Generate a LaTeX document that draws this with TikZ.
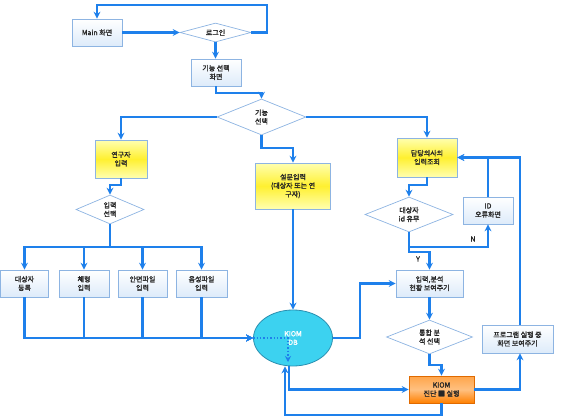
\documentclass[tikz,border=0pt]{standalone}
\usepackage{fontspec}
\newfontfamily\kr{Noto Sans CJK KR}[FakeBold=1.6]
\usetikzlibrary{shapes.geometric,arrows.meta}
\definecolor{lineblue}{HTML}{1E80EB}
\definecolor{boxborder}{HTML}{8DB4E2}
\definecolor{boxfill}{HTML}{DDEBFA}
\definecolor{ylight}{HTML}{FFFFB0}
\definecolor{ymid}{HTML}{FFF030}
\definecolor{dbfill}{HTML}{3CD2F0}
\definecolor{dbborder}{HTML}{2A8FB0}
\definecolor{otop}{HTML}{FFA54A}
\definecolor{obot}{HTML}{FF8000}
\definecolor{oborder}{HTML}{E06A00}
\tikzset{
  txt/.style={font=\kr\fontsize{7}{8.6}\selectfont, text=black!85, align=center},
  pbox/.style={txt, draw=boxborder, line width=0.7pt, top color=white, bottom color=boxfill, inner sep=0pt},
  ybox/.style={txt, draw=boxborder, line width=0.7pt, top color=ylight, bottom color=ylight, middle color=ymid, inner sep=0pt},
  obox/.style={txt, draw=oborder, line width=0.7pt, top color=otop, bottom color=obot, middle color=otop!70!white, inner sep=0pt},
  dia/.style={shape=diamond, draw=boxborder, line width=0.7pt, fill=white, inner sep=0pt},
  lbl/.style={txt},
  conn/.style={draw=lineblue, line width=2.1pt, -{Stealth[length=7pt,width=7pt]}},
  dotconn/.style={draw=lineblue, line width=1.4pt, dotted, -{Stealth[length=6pt,width=6pt]}},
}
\begin{document}
\begin{tikzpicture}[x=1pt,y=-1pt]
\useasboundingbox (0,0) rectangle (562,418);
% nodes
\node[pbox, minimum width=50pt, minimum height=27pt] (main) at (97,32.5) {Main 화면};
\node[dia, minimum width=71pt, minimum height=19pt, label={[lbl]center:로그인}] (login) at (215.5,32.5) {};
\node[pbox, minimum width=50pt, minimum height=27pt] (func) at (216,72.5) {기능 선택\\화면};
\node[dia, minimum width=89pt, minimum height=36pt, label={[lbl]center:{기능\\선택}}] (funcsel) at (261.5,117) {};
\node[ybox, minimum width=52pt, minimum height=38pt] (res) at (121,159) {연구자\\입력};
\node[ybox, minimum width=75pt, minimum height=46pt] (survey) at (293,186) {설문입력\\(대상자 또는 연\\구자)};
\node[ybox, minimum width=60pt, minimum height=39pt] (doc) at (427,157.5) {담당의사의\\입력조회};
\node[dia, minimum width=68pt, minimum height=29pt, label={[lbl]center:{입력\\선택}}] (insel) at (110,209.5) {};
\node[pbox, minimum width=48pt, minimum height=27pt] (b1) at (24.5,283.5) {대상자\\등록};
\node[pbox, minimum width=50pt, minimum height=27pt] (b2) at (84,283.5) {체형\\입력};
\node[pbox, minimum width=49pt, minimum height=27pt] (b3) at (142.5,283.5) {안면파일\\입력};
\node[pbox, minimum width=51pt, minimum height=27pt] (b4) at (201.5,283.5) {음성파일\\입력};
\node[shape=ellipse, draw=dbborder, line width=0.8pt, fill=dbfill, minimum width=79pt, minimum height=56pt, inner sep=0pt, txt, text=white] (db) at (293,338) {KIOM\\DB};
\node[dia, minimum width=88pt, minimum height=35pt, label={[lbl]center:{대상자\\id 유무}}] (idchk) at (409,214.5) {};
\node[pbox, minimum width=50pt, minimum height=27pt] (iderr) at (488,210.5) {ID\\오류화면};
\node[pbox, minimum width=67pt, minimum height=27pt] (show) at (429.5,283.5) {입력,분석\\현황 보여주기};
\node[dia, minimum width=86pt, minimum height=34pt, label={[lbl]center:{통합 분\\석 선택}}] (integ) at (429.5,337) {};
\node[obox, minimum width=65pt, minimum height=27pt] (diag) at (441.5,389.5) {KIOM\\진단 ■ 실행};
\node[pbox, minimum width=71pt, minimum height=28pt] (prog) at (517.5,339) {프로그램 실행 중\\화면 보여주기};
\node[txt] (ylab) at (418,259) {Y};
\node[txt] (nlab) at (473,239) {N};
% connectors
\draw[conn] (main) -- (login);
\draw[conn] (login.east) -| (267,5) -| (main.north);
\draw[conn] (login.south) -- (login.south |- func.north);
\draw[conn] (func.south) |- (261.5,93) -- (funcsel.north);
\draw[conn] (funcsel.west) -| (res.north);
\draw[conn] (funcsel.east) -| (doc.north);
\draw[conn] (funcsel.south) |- (293,148) -- (survey.north);
\draw[conn] (survey.south) -- (db.north);
\draw[conn] (res.south) |- (110,185) -- (insel.north);
\draw[conn] (insel.south) -- ++(0,23) -| (b1.north);
\draw[conn] (insel.south) -- ++(0,23) -| (b2.north);
\draw[conn] (insel.south) -- ++(0,23) -| (b3.north);
\draw[conn] (insel.south) -- ++(0,23) -| (b4.north);
\draw[conn] (b1.south) |- (db.west);
\draw[conn] (b2.south) |- (db.west);
\draw[conn] (b3.south) |- (db.west);
\draw[conn] (b4.south) |- (db.west);
\draw[dotconn] (db.west) -- (288,338) -- (288,362);
\draw[conn] (db.east) -- (360,338) |- (show.west);
\draw[conn] (doc.south) |- (409,185) -- (idchk.north);
\draw[conn] (idchk.south) -- ++(0,20) -| (show.north);
\draw[conn] (idchk.south) -- ++(0,15) -| (iderr.south);
\draw[conn] (iderr.north) |- (doc.east);
\draw[conn] ([xshift=2.5pt]prog.north) |- (doc.east);
\draw[conn] (show.south) -- (integ.north);
\draw[conn] (integ.south) -- ++(0,11) -| (diag.north);
\draw[conn] (diag.east) -| ([xshift=2.5pt]prog.south);
\draw[conn] ([xshift=-4pt]db.south) |- (diag.west);
\draw[conn] (diag.south) -- ++(0,12) -| ([xshift=-8pt]db.south);
\end{tikzpicture}
\end{document}
